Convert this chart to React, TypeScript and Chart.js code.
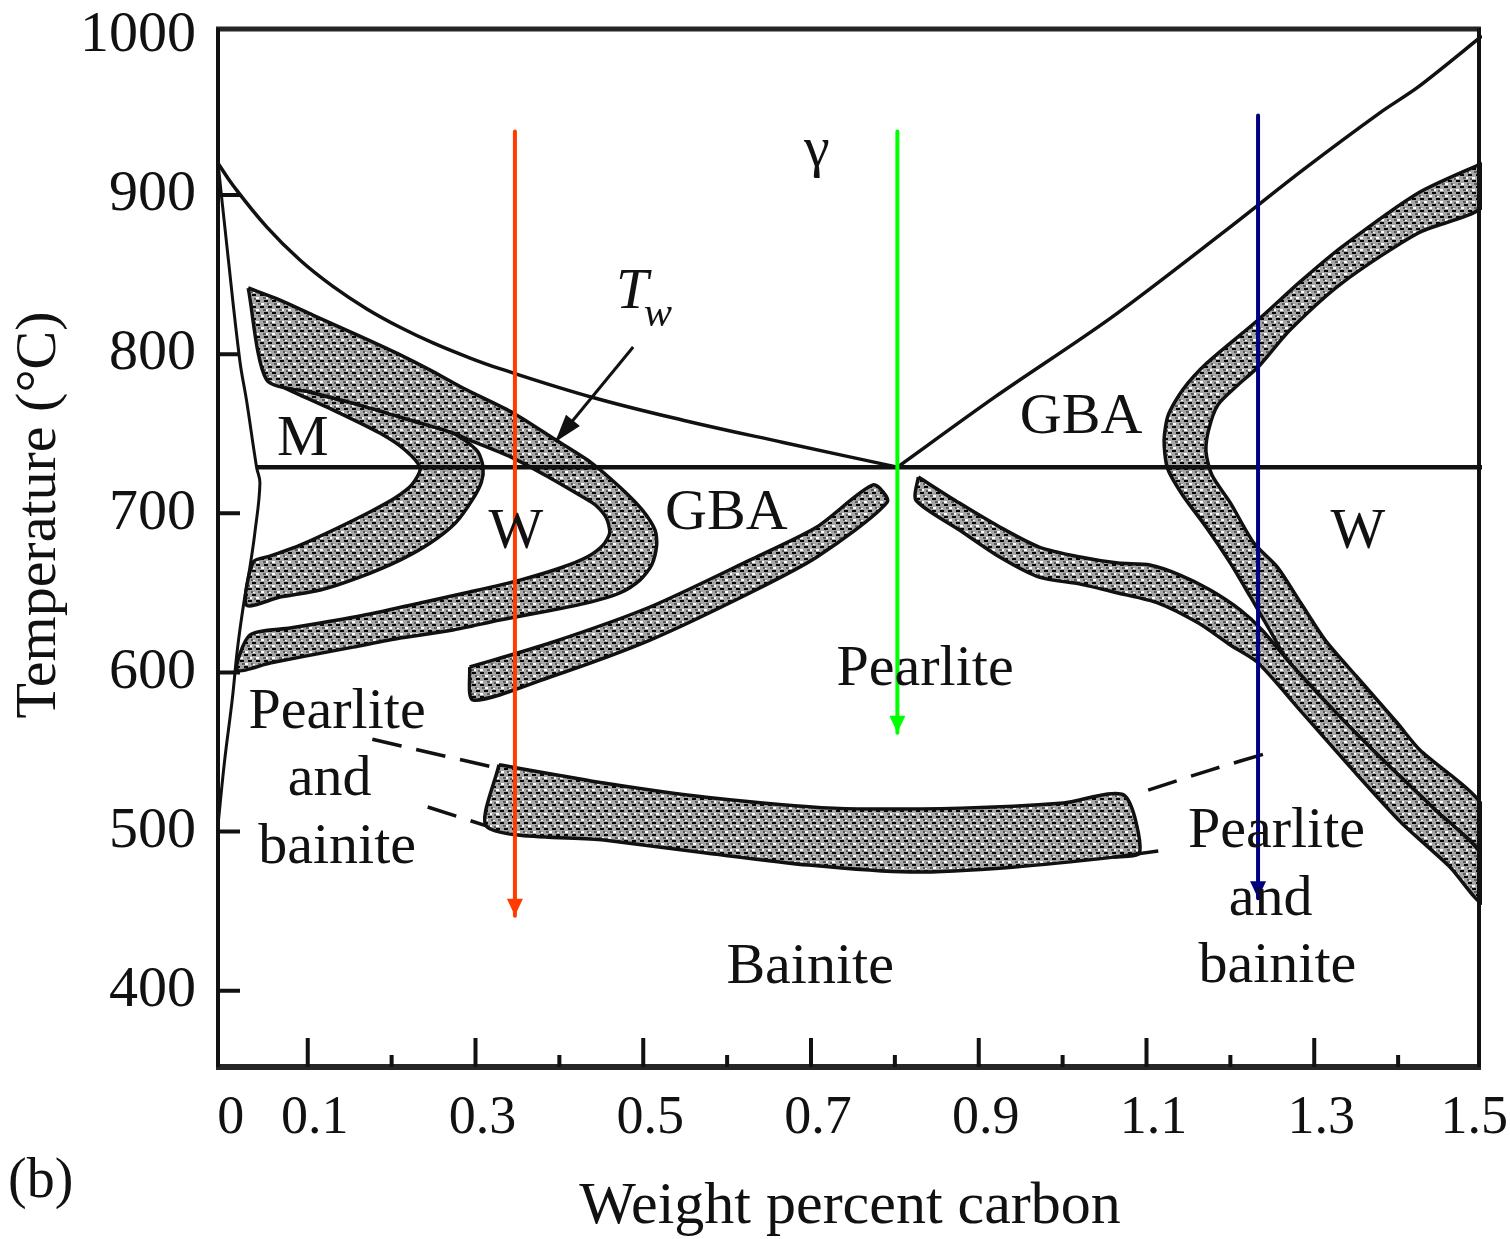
import React, { useEffect, useRef } from 'react';
import { Chart, registerables } from 'chart.js';

Chart.register(...registerables);

// ---------- axes ----------
const X_MIN = -0.007;
const X_MAX = 1.5;
const Y_MIN = 352;
const Y_MAX = 1005;
const xTickValues = [0.1, 0.2, 0.3, 0.4, 0.5, 0.6, 0.7, 0.8, 0.9, 1.0, 1.1, 1.2, 1.3, 1.4];
const xMajorTicks = [0.1, 0.3, 0.5, 0.7, 0.9, 1.1, 1.3];
const xLabelValues = [0, 0.1, 0.3, 0.5, 0.7, 0.9, 1.1, 1.3, 1.5];
const xLabelTexts = ['0', '0.1', '0.3', '0.5', '0.7', '0.9', '1.1', '1.3', '1.5'];
const yTickValues = [400, 500, 600, 700, 800, 900];
const yLabelValues = [400, 500, 600, 700, 800, 900, 1000];
const yLabelTexts = ['400', '500', '600', '700', '800', '900', '1000'];

// ---------- boundary lines ----------
const ae3X = [-0.007, 0.011, 0.051, 0.091, 0.13, 0.17, 0.21, 0.25, 0.29, 0.329, 0.44, 0.55, 0.667, 0.803];
const ae3Y = [920, 906, 880, 859, 842.6, 828.6, 816.9, 806.9, 798.3, 790.9, 772.8, 758.2, 744.5, 729];
const acmX = [0.803, 0.919, 1.058, 1.195, 1.287, 1.379, 1.424, 1.5];
const acmY = [729, 773, 823, 878, 916, 952, 968, 1000];
const mLineX = [-0.007, 0.004, 0.019, 0.027, 0.039, 0.043, 0.037, 0.031, 0.023, 0.016, 0.01, 0.001, -0.007];
const mLineY = [920, 866, 796, 771, 729, 719, 688, 666, 641, 614, 583, 545, 504];
const eutX = [0.039, 1.5];
const eutY = [729, 729];

// ---------- shaded bands (closed outlines) ----------
const innerCX = [0.051, 0.091, 0.138, 0.186, 0.216, 0.234, 0.224, 0.204, 0.174, 0.138, 0.091, 0.055, 0.035, 0.027, 0.067, 0.115, 0.162, 0.21, 0.246, 0.276, 0.296, 0.307, 0.309, 0.303, 0.287, 0.27, 0.222, 0.162, 0.103, 0.051];
const innerCY = [783.8, 774.3, 763.0, 750.4, 739.8, 728.4, 717.8, 709.6, 700.8, 691.4, 680.0, 673.1, 669.4, 642.3, 647.4, 651.8, 659.9, 670.6, 681.3, 693.9, 708.3, 719.6, 729.1, 738.5, 746.0, 751.1, 758.6, 768.0, 776.2, 783.8];

const outerCX = [0.029, 0.067, 0.106, 0.162, 0.206, 0.246, 0.285, 0.345, 0.392, 0.437, 0.472, 0.499, 0.514, 0.516, 0.51, 0.496, 0.472, 0.437, 0.392, 0.329, 0.273, 0.21, 0.154, 0.091, 0.055, 0.016, 0.031, 0.079, 0.115, 0.174, 0.234, 0.293, 0.353, 0.401, 0.433, 0.452, 0.46, 0.456, 0.443, 0.428, 0.389, 0.345, 0.293, 0.27, 0.222, 0.162, 0.103, 0.051, 0.029];
const outerCY = [841.6, 834.0, 824.6, 811.4, 800.7, 790.0, 778.7, 763.0, 747.3, 732.2, 716.5, 702.0, 689.5, 680.0, 667.5, 658.0, 649.9, 644.2, 639.2, 632.9, 626.6, 621.6, 615.9, 609.6, 605.9, 601.5, 623.5, 627.9, 631.0, 636.7, 643.6, 650.5, 658.0, 665.6, 672.5, 680.0, 687.6, 697.0, 705.2, 710.2, 722.2, 734.7, 746.0, 751.1, 758.6, 768.0, 776.2, 783.8, 841.6];

const gbaBandX = [0.293, 0.389, 0.508, 0.627, 0.707, 0.774, 0.791, 0.707, 0.627, 0.508, 0.389, 0.297, 0.293];
const gbaBandY = [603.4, 618.5, 641.1, 670.6, 691.4, 717.8, 707.1, 672.5, 649.9, 620.3, 597.1, 582.6, 603.4];

const bainiteBandX = [0.328, 0.453, 0.575, 0.727, 0.879, 1.001, 1.073, 1.092, 1.061, 0.94, 0.818, 0.697, 0.575, 0.453, 0.314, 0.328];
const bainiteBandY = [542.0, 530.5, 521.6, 514.7, 514.7, 517.9, 522.9, 486.8, 483.9, 477.6, 474.5, 478.9, 486.5, 494.6, 502.8, 542.0];
const bainiteTailX = [1.061, 1.114];
const bainiteTailY = [483.9, 487.7];

const hyperBandX = [0.828, 0.877, 0.925, 0.972, 1.021, 1.066, 1.104, 1.14, 1.176, 1.212, 1.238, 1.268, 1.323, 1.382, 1.442, 1.5, 1.5, 1.462, 1.403, 1.343, 1.283, 1.232, 1.2, 1.162, 1.114, 1.066, 1.021, 0.972, 0.925, 0.877, 0.825, 0.828];
const hyperBandY = [722.8, 706.4, 691.4, 678.8, 672.5, 668.7, 667.5, 661.2, 651.8, 639.2, 626.6, 607.8, 576.3, 544.9, 514.7, 485.0, 455.0, 477.6, 506.0, 540.5, 576.3, 606.5, 617.2, 631.0, 643.6, 649.9, 655.5, 659.9, 672.5, 689.5, 708.3, 722.8];

const bigBandX = [1.5, 1.424, 1.333, 1.283, 1.233, 1.172, 1.143, 1.126, 1.121, 1.125, 1.143, 1.171, 1.2, 1.224, 1.247, 1.268, 1.323, 1.382, 1.442, 1.5, 1.5, 1.426, 1.399, 1.351, 1.313, 1.284, 1.256, 1.228, 1.2, 1.178, 1.171, 1.174, 1.185, 1.209, 1.233, 1.271, 1.333, 1.424, 1.5, 1.5];
const bigBandY = [920.0, 901.3, 867.4, 845.4, 821.5, 794.4, 777.5, 761.8, 746.0, 728.4, 711.5, 691.4, 668.7, 647.4, 626.6, 607.8, 576.3, 544.9, 514.7, 485.0, 516.6, 551.2, 568.2, 597.1, 620.3, 643.6, 666.2, 681.3, 706.5, 724.0, 738.5, 752.3, 768.0, 780.6, 791.9, 815.2, 844.7, 876.2, 892.5, 920.0];

// ---------- dashed extensions ----------
const dashUpperLeftX = [0.177, 0.246, 0.317];
const dashUpperLeftY = [558, 549.5, 541];
const dashLowerLeftX = [0.243, 0.314];
const dashLowerLeftY = [515.4, 503.4];
const dashRightX = [1.102, 1.176, 1.248];
const dashRightY = [526, 538.6, 549.9];

// ---------- cooling paths (arrows) ----------
const redPathX = [0.347, 0.347];
const redPathY = [940, 447];
const greenPathX = [0.803, 0.803];
const greenPathY = [940, 562];
const bluePathX = [1.233, 1.233];
const bluePathY = [950, 458];
const twArrowX = [0.488, 0.395];
const twArrowY = [804.5, 744.8];

// ---------- region labels ----------
const labelTexts = ['γ', 'M', 'W', 'GBA', 'GBA', 'W', 'Pearlite', 'Pearlite', 'and', 'bainite', 'Bainite', 'Pearlite', 'and', 'bainite'];
const labelX = [0.707, 0.094, 0.348, 0.599, 1.022, 1.352, 0.836, 0.135, 0.126, 0.135, 0.699, 1.255, 1.248, 1.256];
const labelY = [928, 746, 688, 700, 760, 688, 601.5, 574.4, 532.3, 489.6, 414.2, 499.7, 456.9, 414.8];
const twMainX = 0.4866;
const twMainY = 838.4;
const twSubX = 0.5176;
const twSubY = 824.6;

const xTitle = 'Weight percent carbon';
const yTitle = 'Temperature (°C)';
const panelTag = '(b)';

const FONT = '"Liberation Serif", "DejaVu Serif", serif';

const toPts = (xs: number[], ys: number[]) => xs.map((x, i) => ({ x, y: ys[i] }));

function makeStipple(): CanvasPattern | string {
  const c = document.createElement('canvas');
  c.width = 16;
  c.height = 12;
  const g = c.getContext('2d');
  if (!g) return '#999';
  g.fillStyle = '#a6a6a6';
  g.fillRect(0, 0, 16, 12);
  g.fillStyle = '#ffffff';
  [[5, 3, 3, 2], [0, 9, 3, 2], [10, 9, 2, 2], [13, 4, 2, 1]].forEach((r) => g.fillRect(r[0], r[1], r[2], r[3]));
  g.fillStyle = '#5e5e5e';
  [[2, 3, 3, 2], [11, 3, 2, 2], [7, 9, 3, 2], [14, 10, 2, 2]].forEach((r) => g.fillRect(r[0], r[1], r[2], r[3]));
  g.fillStyle = '#050505';
  [[0, 0, 4, 2], [8, 0, 4, 2], [4, 6, 4, 2], [12, 6, 4, 2]].forEach((r) => g.fillRect(r[0], r[1], r[2], r[3]));
  const p = g.createPattern(c, 'repeat');
  return p || '#999';
}

export default function App() {
  const ref = useRef<HTMLCanvasElement | null>(null);

  useEffect(() => {
    const canvas = ref.current;
    if (!canvas) return;
    const stipple = makeStipple();

    const lineDs = (xs: number[], ys: number[], extra: any = {}) => ({
      data: toPts(xs, ys),
      borderColor: '#111111',
      borderWidth: 3.5,
      pointRadius: 0,
      fill: false,
      tension: 0.4,
      ...extra,
    });
    const bandDs = (xs: number[], ys: number[]) => ({
      data: toPts(xs, ys),
      borderColor: '#111111',
      borderWidth: 3.5,
      pointRadius: 0,
      fill: 'shape',
      backgroundColor: stipple,
      tension: 0.25,
    });

    const datasets: any[] = [
      lineDs(redPathX, redPathY, { borderColor: '#ff3b00', borderWidth: 4, tension: 0, arrowLen: 17, arrowHalf: 8 }),
      lineDs(greenPathX, greenPathY, { borderColor: '#00ff00', borderWidth: 4, tension: 0, arrowLen: 17, arrowHalf: 8 }),
      lineDs(bluePathX, bluePathY, { borderColor: '#000080', borderWidth: 4, tension: 0, arrowLen: 17, arrowHalf: 8 }),
      lineDs(twArrowX, twArrowY, { borderWidth: 3, tension: 0, arrowLen: 28, arrowHalf: 9 }),
      lineDs(eutX, eutY, { borderWidth: 4.5, tension: 0 }),
      lineDs(ae3X, ae3Y, { tension: 0.4 }),
      lineDs(acmX, acmY, { tension: 0.3 }),
      lineDs(mLineX, mLineY, { tension: 0.4, borderWidth: 3 }),
      lineDs(dashUpperLeftX, dashUpperLeftY, { borderDash: [30, 15], tension: 0.3 }),
      lineDs(dashLowerLeftX, dashLowerLeftY, { borderDash: [30, 15], tension: 0 }),
      lineDs(dashRightX, dashRightY, { borderDash: [30, 15], tension: 0.3 }),
      lineDs(bainiteTailX, bainiteTailY, { tension: 0 }),
      bandDs(bainiteBandX, bainiteBandY),
      bandDs(gbaBandX, gbaBandY),
      bandDs(hyperBandX, hyperBandY),
      bandDs(bigBandX, bigBandY),
      bandDs(outerCX, outerCY),
      bandDs(innerCX, innerCY),
    ];

    const decor = {
      id: 'decor',
      afterDatasetsDraw(chart: any) {
        const ctx = chart.ctx;
        const xs = chart.scales.x;
        const ys = chart.scales.y;
        ctx.save();
        chart.data.datasets.forEach((ds: any, i: number) => {
          if (!ds.arrowLen) return;
          const pts = chart.getDatasetMeta(i).data;
          const a = pts[pts.length - 2];
          const b = pts[pts.length - 1];
          const ang = Math.atan2(b.y - a.y, b.x - a.x);
          const L = ds.arrowLen;
          const H = ds.arrowHalf;
          const bx = b.x - L * Math.cos(ang);
          const by = b.y - L * Math.sin(ang);
          ctx.fillStyle = ds.borderColor;
          ctx.beginPath();
          ctx.moveTo(b.x, b.y);
          ctx.lineTo(bx + H * Math.sin(ang), by - H * Math.cos(ang));
          ctx.lineTo(bx - H * Math.sin(ang), by + H * Math.cos(ang));
          ctx.closePath();
          ctx.fill();
        });
        ctx.fillStyle = '#111111';
        ctx.textAlign = 'center';
        ctx.textBaseline = 'middle';
        ctx.font = `58px ${FONT}`;
        labelTexts.forEach((t, i) => {
          ctx.fillText(t, xs.getPixelForValue(labelX[i]), ys.getPixelForValue(labelY[i]));
        });
        ctx.font = `italic 58px ${FONT}`;
        ctx.fillText('T', xs.getPixelForValue(twMainX), ys.getPixelForValue(twMainY));
        ctx.font = `italic 42px ${FONT}`;
        ctx.fillText('w', xs.getPixelForValue(twSubX), ys.getPixelForValue(twSubY));
        ctx.restore();
      },
      afterDraw(chart: any) {
        const ctx = chart.ctx;
        const a = chart.chartArea;
        const xs = chart.scales.x;
        const ys = chart.scales.y;
        ctx.save();
        ctx.lineCap = 'butt';
        ctx.strokeStyle = '#262626';
        ctx.lineWidth = 5;
        ctx.beginPath();
        ctx.moveTo(a.left - 2, a.top + 1);
        ctx.lineTo(a.right - 1, a.top + 1);
        ctx.stroke();
        ctx.lineWidth = 6;
        ctx.beginPath();
        ctx.moveTo(a.left - 2, a.bottom);
        ctx.lineTo(a.right - 1, a.bottom);
        ctx.stroke();
        ctx.strokeStyle = '#111111';
        ctx.lineWidth = 4;
        ctx.beginPath();
        ctx.moveTo(a.left, a.top);
        ctx.lineTo(a.left, a.bottom);
        ctx.moveTo(a.right - 3, a.top);
        ctx.lineTo(a.right - 3, a.bottom);
        ctx.stroke();
        ctx.lineWidth = 4;
        ctx.beginPath();
        xTickValues.forEach((v) => {
          const px = xs.getPixelForValue(v);
          const len = xMajorTicks.some((m) => Math.abs(m - v) < 1e-6) ? 29 : 12;
          ctx.moveTo(px, a.bottom);
          ctx.lineTo(px, a.bottom - len);
        });
        yTickValues.forEach((v) => {
          const py = ys.getPixelForValue(v);
          ctx.moveTo(a.left, py);
          ctx.lineTo(a.left + 22, py);
        });
        ctx.stroke();
        ctx.fillStyle = '#111111';
        ctx.font = `54px ${FONT}`;
        ctx.textAlign = 'center';
        ctx.textBaseline = 'middle';
        xLabelValues.forEach((v, i) => {
          const w = ctx.measureText(xLabelTexts[i]).width;
          const cx = Math.min(xs.getPixelForValue(v) + 7, chart.width - 2 - w / 2);
          ctx.fillText(xLabelTexts[i], cx, a.bottom + 52);
        });
        ctx.font = `58px ${FONT}`;
        ctx.textAlign = 'right';
        yLabelValues.forEach((v, i) => {
          ctx.fillText(yLabelTexts[i], a.left - 22, ys.getPixelForValue(v));
        });
        ctx.font = `60px ${FONT}`;
        ctx.textAlign = 'center';
        ctx.fillText(xTitle, (a.left + a.right) / 2, a.bottom + 140);
        ctx.save();
        ctx.translate(40, 515);
        ctx.rotate(-Math.PI / 2);
        ctx.font = `58px ${FONT}`;
        ctx.fillText(yTitle, 0, 0);
        ctx.restore();
        ctx.font = `56px ${FONT}`;
        ctx.textAlign = 'left';
        ctx.fillText(panelTag, 8, 1182);
        ctx.restore();
      },
    };

    const chart = new Chart(canvas, {
      type: 'line',
      data: { datasets },
      options: {
        animation: false,
        responsive: false,
        devicePixelRatio: 1,
        events: [],
        layout: { padding: { left: 218, right: 28, top: 28, bottom: 172 } },
        scales: {
          x: { type: 'linear', min: X_MIN, max: X_MAX, display: false },
          y: { type: 'linear', min: Y_MIN, max: Y_MAX, display: false },
        },
        plugins: { legend: { display: false }, tooltip: { enabled: false } },
        elements: { point: { radius: 0, hoverRadius: 0 }, line: { borderCapStyle: 'butt', borderJoinStyle: 'round' } },
      } as any,
      plugins: [decor],
    });
    return () => chart.destroy();
  }, []);

  return (
    <div style={{ position: 'absolute', left: 0, top: 0, width: 1510, height: 1239, background: '#ffffff' }}>
      <canvas ref={ref} width={1510} height={1239} style={{ display: 'block', width: 1510, height: 1239 }} />
    </div>
  );
}
